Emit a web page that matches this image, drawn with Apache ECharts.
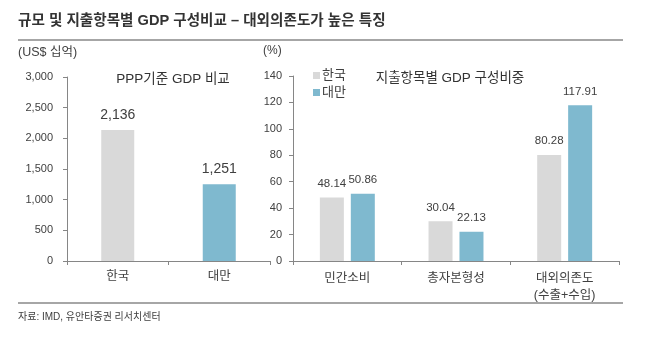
<!DOCTYPE html>
<html>
<head>
<meta charset="utf-8">
<script src="https://cdn.jsdelivr.net/npm/echarts@6/dist/echarts.min.js"></script>
<style>
  html, body { margin: 0; padding: 0; background: #fff; }
  #chart { width: 646px; height: 338px; }
</style>
</head>
<body>
<div id="chart"></div>
<script>
// PPP-based GDP (US$ billions)
const gdpCategories = ['한국', '대만'];
const gdpValues = [2136, 1251];

// GDP composition by expenditure item (%)
const expCategories = ['민간소비', '총자본형성', '대외의존도\n(수출+수입)'];
const koreaShares = [48.14, 30.04, 80.28];
const taiwanShares = [50.86, 22.13, 117.91];

const seriesNames = ['한국', '대만'];

const GRAY = '#d9d9d9';
const BLUE = '#7fb9cf';
const TEXT = '#404040';
const AXIS = '#868686';
const FONT = '"Liberation Sans", Arial, "Noto Sans CJK KR", sans-serif';

const chart = echarts.init(document.getElementById('chart'), null, { renderer: 'canvas' });

const axisCommon = {
  axisLine: { show: true, lineStyle: { color: AXIS, width: 1 } },
  axisTick: { show: true, inside: false, length: 4, lineStyle: { color: AXIS } },
  splitLine: { show: false }
};

const option = {
  animation: false,
  textStyle: { fontFamily: FONT, color: TEXT },
  title: [
    { text: 'PPP기준 GDP 비교', left: 168, top: 68, textAlign: 'center',
      textStyle: { fontSize: 13.5, fontWeight: 'normal', color: '#333', fontFamily: FONT } },
    { text: '지출항목별 GDP 구성비중', left: 445, top: 67, textAlign: 'center',
      textStyle: { fontSize: 13.5, fontWeight: 'normal', color: '#333', fontFamily: FONT } }
  ],
  legend: {
    data: seriesNames,
    orient: 'vertical',
    left: 308,
    top: 64,
    itemWidth: 7,
    itemHeight: 7,
    itemGap: 4,
    icon: 'rect',
    textStyle: { fontSize: 13, color: '#404040', fontFamily: FONT, padding: [0, 0, 0, -3] }
  },
  grid: [
    { left: 67, top: 77, width: 203, height: 184 },
    { left: 293, top: 76, width: 326, height: 185 }
  ],
  xAxis: [
    Object.assign({}, axisCommon, {
      type: 'category', gridIndex: 0, data: gdpCategories,
      axisLabel: { fontSize: 12.5, color: TEXT, margin: 9, fontFamily: FONT }
    }),
    Object.assign({}, axisCommon, {
      type: 'category', gridIndex: 1, data: expCategories,
      axisLabel: { fontSize: 12.5, color: TEXT, margin: 9, lineHeight: 17, fontFamily: FONT }
    })
  ],
  yAxis: [
    Object.assign({}, axisCommon, {
      type: 'value', gridIndex: 0, min: 0, max: 3000, interval: 500,
      axisLabel: { fontSize: 11, color: TEXT, margin: 14, fontFamily: FONT,
        formatter: v => v.toLocaleString('en-US') }
    }),
    Object.assign({}, axisCommon, {
      type: 'value', gridIndex: 1, min: 0, max: 140, interval: 20,
      axisLabel: { fontSize: 11, color: TEXT, margin: 11, fontFamily: FONT }
    })
  ],
  series: [
    {
      type: 'bar', xAxisIndex: 0, yAxisIndex: 0, barWidth: 33,
      data: gdpValues.map((v, i) => ({ value: v, itemStyle: { color: i === 0 ? GRAY : BLUE } })),
      label: { show: true, position: 'top', distance: 8, fontSize: 14, color: TEXT, fontFamily: FONT,
        formatter: p => p.value.toLocaleString('en-US') }
    },
    {
      name: seriesNames[0], type: 'bar', xAxisIndex: 1, yAxisIndex: 1,
      barWidth: 24, barGap: '29%', itemStyle: { color: GRAY },
      data: koreaShares,
      label: { show: true, position: 'top', distance: 8, fontSize: 11.5, color: TEXT, fontFamily: FONT,
        formatter: p => p.value.toFixed(2) }
    },
    {
      name: seriesNames[1], type: 'bar', xAxisIndex: 1, yAxisIndex: 1,
      barWidth: 24, barGap: '29%', itemStyle: { color: BLUE },
      data: taiwanShares,
      label: { show: true, position: 'top', distance: 8, fontSize: 11.5, color: TEXT, fontFamily: FONT,
        formatter: p => p.value.toFixed(2) }
    }
  ],
  graphic: [
    { type: 'text', left: 18, top: 14,
      style: { text: '규모 및 지출항목별 GDP 구성비교 – 대외의존도가 높은 특징',
        font: 'bold 14.6px ' + FONT, fill: '#333' } },
    { type: 'line', shape: { x1: 18, y1: 40, x2: 623, y2: 40 },
      style: { stroke: '#a6a6a6', lineWidth: 2 } },
    { type: 'text', left: 18, top: 46,
      style: { text: '(US$ 십억)', font: '12.5px ' + FONT, fill: TEXT } },
    { type: 'text', left: 263, top: 45,
      style: { text: '(%)', font: '12px ' + FONT, fill: TEXT } },
    { type: 'line', shape: { x1: 18, y1: 303, x2: 623, y2: 303 },
      style: { stroke: '#a6a6a6', lineWidth: 2 } },
    { type: 'text', left: 18, top: 312,
      style: { text: '자료: IMD, 유안타증권 리서치센터', font: '10px ' + FONT, fill: '#404040' } }
  ]
};

chart.setOption(option);
</script>
</body>
</html>
